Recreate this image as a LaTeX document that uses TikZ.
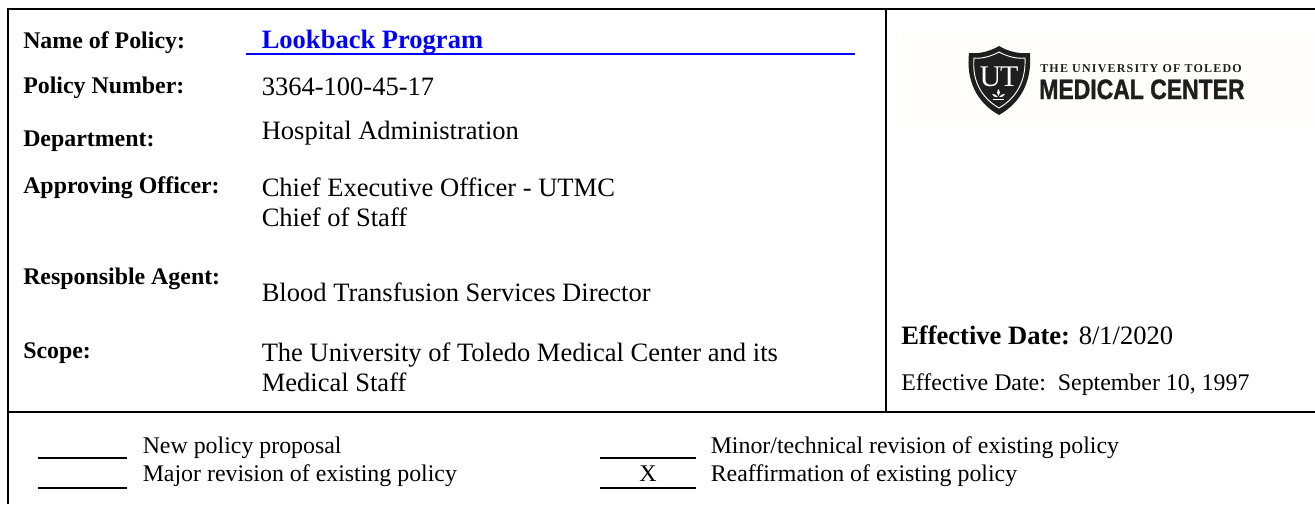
\documentclass[tikz,border=0pt]{standalone}
\usepackage{fontspec}
\setmainfont{Liberation Serif}
\newfontfamily\heavy[FakeBold=1.2,FakeStretch=0.82]{Liberation Sans Bold}
\newfontfamily\spaced[LetterSpace=10]{Liberation Serif Bold}
\definecolor{polblue}{HTML}{0000FF}
\definecolor{logobg}{HTML}{FEFDF9}
\definecolor{logoink}{HTML}{1E1E1E}
\tikzset{
  x=0.75pt,y=-0.75pt,
  frameline/.style={draw=black,line width=1.7pt},
  rule/.style={draw=black,line width=1.5pt},
  lab/.style={anchor=base west,inner sep=0pt,font=\fontsize{17.9}{21}\selectfont\bfseries},
  val/.style={anchor=base west,inner sep=0pt,font=\fontsize{19.9}{23}\selectfont},
  small/.style={anchor=base west,inner sep=0pt,font=\fontsize{17.9}{21}\selectfont},
}
\begin{document}
\begin{tikzpicture}
\useasboundingbox (0,0) rectangle (1315,504);
\fill[white] (0,0) rectangle (1315,504);
% frame
\coordinate (tl) at (8.3,9.3); \coordinate (tr) at (1315,9.3);
\coordinate (bl) at (8.3,504);
\coordinate (ml) at (8.3,411.7); \coordinate (mr) at (1315,411.7);
\coordinate (vt) at (886,9.3); \coordinate (vb) at (886,411.7);
% logo background
\fill[logobg] (900,33) rectangle (1313,125);
\draw[frameline] (bl) -- (tl) -- (tr);
\draw[frameline] (ml) -- (mr);
\draw[frameline] (vt) -- (vb);
% labels
\node[lab] (l1) at (23,48) {Name of Policy:};
\node[lab] (l2) at (23,93) {Policy Number:};
\node[lab] (l3) at (23,146) {Department:};
\node[lab] (l4) at (23,193) {Approving Officer:};
\node[lab] (l5) at (23,284) {Responsible Agent:};
\node[lab] (l6) at (23,358) {Scope:};
% values
\node[anchor=base west,inner sep=0pt,text=polblue,font=\fontsize{19.9}{23}\selectfont\bfseries] (v1) at (261.5,48) {Lookback Program};
\coordinate (ula) at (246,53.7); \coordinate (ulb) at (855,53.7);
\draw[draw=polblue,line width=1.5pt] (ula) -- (ulb);
\node[val] (v2) at (261.5,95) {3364-100-45-17};
\node[val] (v3) at (261.5,139) {Hospital Administration};
\node[val] (v4a) at (261.5,196) {Chief Executive Officer - UTMC};
\node[val] (v4b) at (261.5,226) {Chief of Staff};
\node[val] (v5) at (261.5,301) {Blood Transfusion Services Director};
\node[val] (v6a) at (261.5,361) {The University of Toledo Medical Center and its};
\node[val] (v6b) at (261.5,391) {Medical Staff};
% effective
\node[anchor=base west,inner sep=0pt,font=\fontsize{19.9}{23}\selectfont] (e1) at (901,344) {\textbf{Effective Date:} 8/1/2020};
\node[small] (e2) at (901,390) {Effective Date:\ \ September 10, 1997};
% bottom
\coordinate (a1) at (38,458.3); \coordinate (a2) at (127,458.3);
\coordinate (b1) at (38,488); \coordinate (b2) at (127,488);
\coordinate (c1) at (600,458.3); \coordinate (c2) at (696,458.3);
\coordinate (d1) at (600,488); \coordinate (d2) at (696,488);
\draw[rule] (a1) -- (a2); \draw[rule] (b1) -- (b2);
\draw[rule] (c1) -- (c2); \draw[rule] (d1) -- (d2);
\node[small] (n1) at (142.5,453) {New policy proposal};
\node[small] (n2) at (142.5,481) {Major revision of existing policy};
\node[small] (n3) at (710.5,453) {Minor/technical revision of existing policy};
\node[small] (n4) at (710.5,481) {Reaffirmation of existing policy};
\node[anchor=base,inner sep=0pt,font=\fontsize{17.9}{21}\selectfont] (nx) at (648,481) {X};
% logo
\fill[logoink] (999,46) .. controls (1009,52) and (1020,54) .. (1030,53)
  .. controls (1032,80) and (1022,102) .. (999,115)
  .. controls (976,102) and (966,80) .. (969,53)
  .. controls (978,54) and (989,52) .. (999,46) -- cycle;
\draw[white,line width=0.7pt] (999,52) .. controls (1008,57) and (1018,59) .. (1025,58)
  .. controls (1026,79) and (1018,97) .. (999,108)
  .. controls (980,97) and (972,79) .. (974,58)
  .. controls (980,59) and (990,57) .. (999,52) -- cycle;
\node[inner sep=0pt,text=white,font=\fontsize{22.5}{22.5}\selectfont] (ut) at (999,77) {U\kern-1pt T};
\fill[white] (998.5,89) .. controls (996.5,92) and (997,94) .. (998.5,96)
  .. controls (1000,94) and (1000.5,92) .. (998.5,89) -- cycle;
\fill[white] (992,94) .. controls (994,93.5) and (996.5,95) .. (998,97)
  .. controls (995,97.5) and (993,96.5) .. (992,94) -- cycle;
\fill[white] (1005,94) .. controls (1003,93.5) and (1000.5,95) .. (999,97)
  .. controls (1002,97.5) and (1004,96.5) .. (1005,94) -- cycle;
\fill[white] (993,98.5) rectangle (1004,99.3);
\node[anchor=base west,inner sep=0pt,text=logoink,font=\fontsize{9}{10}\spaced] (lg1) at (1040,72) {THE UNIVERSITY OF TOLEDO};
\node[anchor=base west,inner sep=0pt,text=logoink,font=\fontsize{21}{22}\heavy] (lg2) at (1039,99) {MEDICAL CENTER};
\end{tikzpicture}
\end{document}
